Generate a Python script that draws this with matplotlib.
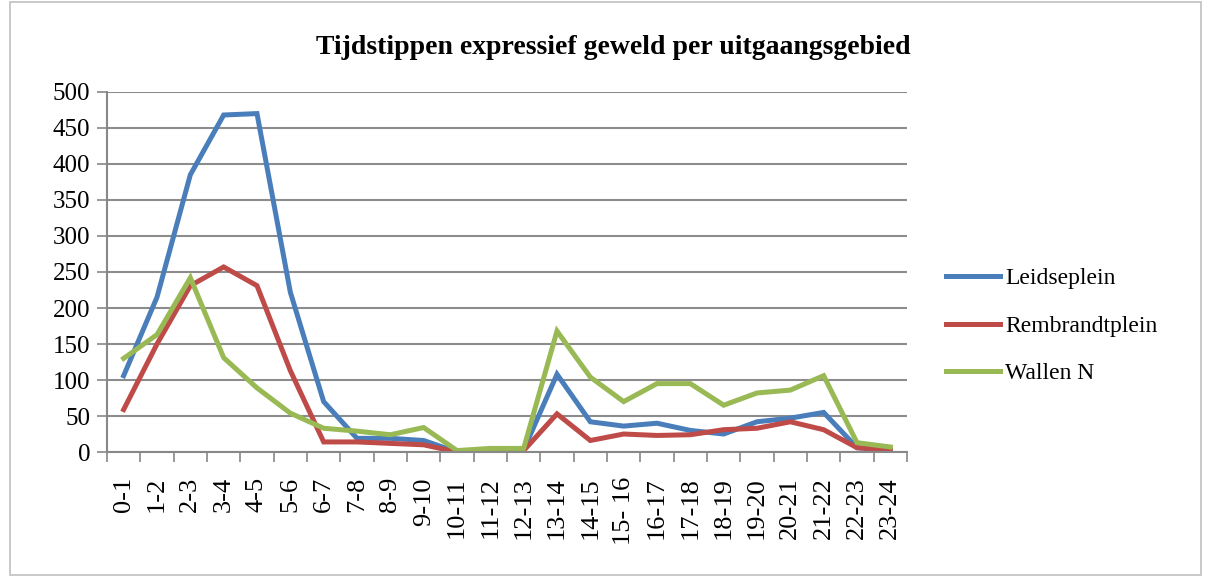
from matplotlib import pyplot as plt
from matplotlib.patches import Rectangle

hours = ['0-1', '1-2', '2-3', '3-4', '4-5', '5-6', '6-7', '7-8', '8-9', '9-10',
         '10-11', '11-12', '12-13', '13-14', '14-15', '15- 16', '16-17', '17-18',
         '18-19', '19-20', '20-21', '21-22', '22-23', '23-24']

leidseplein = [106, 215, 385, 468, 470, 222, 70, 19, 19, 16,
               0, 3, 3, 108, 42, 36, 40, 30, 25, 42, 47, 55, 6, 2]
rembrandtplein = [59, 150, 231, 257, 231, 113, 14, 14, 12, 10,
                  0, 2, 2, 53, 16, 25, 23, 24, 31, 33, 42, 31, 6, 3]
wallen_n = [130, 163, 242, 131, 89, 54, 33, 29, 24, 34,
            2, 5, 5, 168, 104, 70, 95, 95, 65, 82, 86, 106, 13, 7]

plt.rcParams['font.family'] = ['Liberation Serif', 'DejaVu Serif']

fig = plt.figure(figsize=(12.09, 5.77), dpi=100)
fig.patches.append(Rectangle((0.008, 0.003), 0.985, 0.994, transform=fig.transFigure,
                             fill=False, edgecolor='#c0c0c0', linewidth=1.2))
ax = fig.add_axes([0.0885, 0.2166, 0.6617, 0.624])

x = range(len(hours))
ax.plot(x, leidseplein, color='#4a7ebb', lw=3.6, label='Leidseplein', solid_joinstyle='miter')
ax.plot(x, rembrandtplein, color='#be4b48', lw=3.6, label='Rembrandtplein', solid_joinstyle='miter')
ax.plot(x, wallen_n, color='#98b954', lw=3.6, label='Wallen N', solid_joinstyle='miter')

ax.set_xlim(-0.5, len(hours) - 0.5)
ax.set_ylim(0, 500)
ax.set_yticks(range(0, 501, 50))
ax.tick_params(axis='y', labelsize=18, length=7, width=1.2, color='#888888', direction='out', pad=5)
ax.yaxis.grid(True, color='#8c8c8c', lw=1.5)
ax.set_axisbelow(True)

ax.set_xticks(x)
ax.set_xticklabels(hours, rotation=90, fontsize=19)
ax.tick_params(axis='x', length=0, pad=18)
ax.set_xticks([i - 0.5 for i in range(len(hours) + 1)], minor=True)
ax.tick_params(axis='x', which='minor', length=7, width=1.2, color='#888888', direction='out')

for s in ['top', 'right']:
    ax.spines[s].set_visible(False)
for s in ['left', 'bottom']:
    ax.spines[s].set_color('#888888')
    ax.spines[s].set_linewidth(1.5)

fig.text(0.507, 0.918, 'Tijdstippen expressief geweld per uitgaangsgebied',
         ha='center', va='center', fontsize=20, fontweight='bold')

fig.legend(loc='center left', bbox_to_anchor=(0.7825, 0.435), frameon=False, fontsize=17,
           handlelength=2.3, handletextpad=0.2, labelspacing=1.1,
           borderpad=0, borderaxespad=0)

plt.savefig('out.png', dpi=100)
